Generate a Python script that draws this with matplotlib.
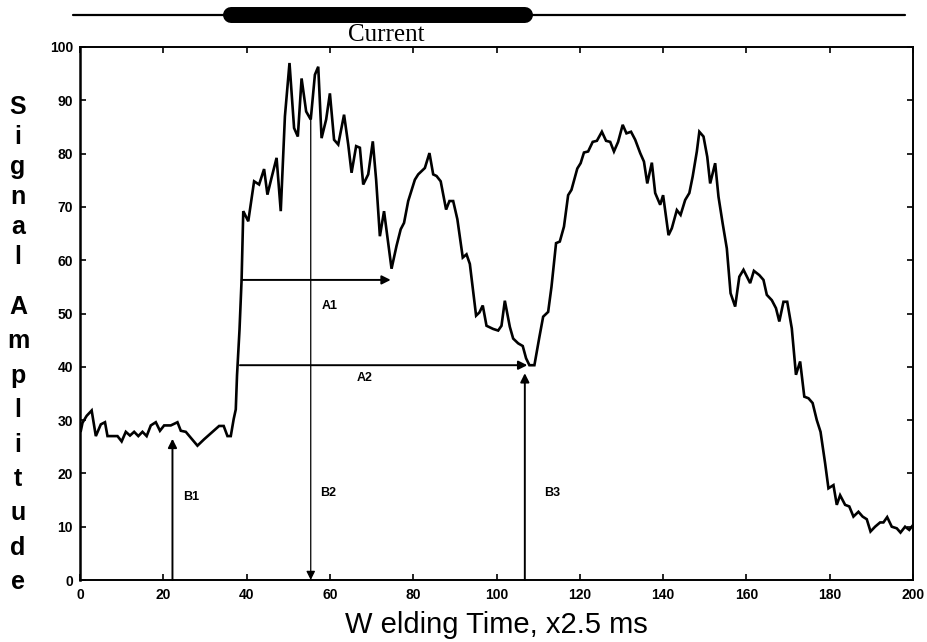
import matplotlib.pyplot as plt
import numpy as np

# welding time (x2.5 ms) and signal amplitude, traced point by point
t = [0.2, 0.6, 1.6, 2.8, 3.8, 5, 6, 6.6, 9, 10, 11, 12, 13, 14, 15, 16, 17, 18.2, 19.2, 20.2,
     21.8, 23.4, 24.2, 25.4, 28.2, 29.8, 31.8, 33.4, 34.5, 35.4, 36.2, 36.9, 37.4, 37.7, 38.3,
     38.8, 39.2, 40.4, 41.8, 43, 44.2, 45, 46, 47.2, 48.2, 49.2, 50.3, 51.4, 52.3, 53.2, 54.3,
     55.4, 56.4, 57.2, 58, 59.1, 60, 61, 62, 63.4, 64.4, 65.2, 66.3, 67.2, 68, 69.2, 70.3, 71.1,
     72, 73, 74.8, 76, 77, 77.8, 78.8, 80.4, 81.2, 82.8, 83.9, 84.8, 85.6, 86.6, 87.9, 88.7,
     89.6, 90.6, 91.9, 92.8, 93.6, 95.1, 95.9, 96.7, 97.6, 99.2, 100.4, 101.2, 102, 103.2, 104,
     105.2, 106.3, 107.1, 107.9, 109.1, 110.3, 111.2, 112.4, 113.2, 114.3, 115.2, 116.2, 117.2,
     118, 119.4, 120.2, 121, 122, 123.1, 124.1, 125.3, 126.3, 127.3, 128.2, 129.2, 130.3, 131.2,
     132.3, 133.3, 134.5, 135.4, 136.2, 137.3, 138.1, 139.3, 140, 141.3, 142.1, 143.3, 144.2,
     145.3, 146.3, 147.1, 148.1, 148.7, 149.7, 150.6, 151.3, 152.5, 153.3, 154.3, 155.3, 156.2,
     157.3, 158.3, 159.3, 160.9, 161.8, 163.1, 164.1, 164.9, 166.1, 167.1, 167.9, 168.9, 169.8,
     170.9, 171.9, 172.9, 173.9, 174.9, 175.9, 176.9, 177.8, 178.9, 179.7, 180.9, 181.7, 182.5,
     183.7, 184.7, 185.7, 186.9, 187.9, 188.9, 189.8, 190.9, 192.1, 192.9, 193.8, 194.9, 196.1,
     197, 198.1, 199.1, 200]
amp = [28, 29.5, 30.8, 31.8, 27, 29.2, 29.6, 27, 27, 26, 27.8, 27.1, 27.8, 27, 27.8, 27, 29, 29.6, 28, 29,
       29, 29.6, 28, 27.8, 25.2, 26.4, 27.8, 28.9, 28.9, 27, 27, 30.2, 32, 38.4, 47,
       56.4, 69.2, 67.3, 74.8, 74.2, 77.1, 72.3, 75.5, 79.2, 69.2, 87, 97, 84.8, 83.2, 94.1, 87.9,
       86.4, 94.8, 96.3, 82.9, 86.4, 91.3, 82.6, 81.7, 87.3, 81.7, 76.4, 81.4, 81.1, 74.2, 76.1, 82.3, 75.1,
       64.5, 69.2, 58.4, 62.7, 65.8, 67, 71.1, 75.1, 76.1, 77.3, 80.1, 76.1, 75.8, 74.8, 69.5, 71.1,
       71.1, 67.7, 60.5, 61.1, 59.3, 49.6, 50.2, 51.5, 47.7, 47.1, 46.8, 47.7, 52.4, 47.5, 45.3,
       44.4, 43.9, 41.6, 40.3, 40.3, 45.6, 49.4, 50.3, 55, 63.2, 63.5, 66.3, 72.2,
       73.2, 77.2, 78.2, 80.2, 80.4, 82.2, 82.4, 84.1, 82.4, 82.2, 80.4, 82.2, 85.4, 83.8,
       84.1, 82.6, 80.1, 78.5, 74.4, 78.3, 72.6, 70.4, 72.2, 64.7, 66, 69.4, 68.5,
       71.3, 72.6, 75.7, 80.4, 84.1, 83.2, 79.4, 74.4, 78.2, 71.9, 66.9, 62.2, 53.8,
       51.3, 56.9, 58.2, 55.7, 58, 57.2, 56.3, 53.5, 52.5, 51, 48.5, 52.2, 52.2,
       47.2, 38.5, 41, 34.4, 34.1, 33.2, 30, 27.8, 21.9, 17.2, 17.8, 14.1, 15.9,
       14.1, 13.8, 11.9, 12.8, 11.9, 11.4, 9.1, 10, 10.8, 10.8, 11.8, 10, 9.7,
       8.9, 10, 9.4, 10.3]

# current on/off bar above the plot
bar_span = (-1.7, 198)
current_on = (36.2, 106.9)
bar_y = 106

# horizontal intervals A1, A2: (start, end, level)
a_arrows = {'A1': (38.8, 74.6, 56.3), 'A2': (38.4, 107.4, 40.3)}
a_text = {'A1': (60, 51.4), 'A2': (68.4, 37.9)}
# vertical markers B1..B3: (time, from, to)
b_arrows = {'B1': (22.2, 0, 26.5), 'B2': (55.4, 87, 0), 'B3': (106.8, 0, 38.8)}
b_text = {'B1': (26.6, 15.6), 'B2': (59.5, 16.3), 'B3': (113.3, 16.3)}

plt.rcParams['font.family'] = 'Liberation Sans'

fig = plt.figure(figsize=(9.28, 6.42), dpi=100)
ax = fig.add_axes([80 / 928, 1 - 580 / 642, 833 / 928, 533 / 642])

ax.plot(t, amp, color='black', lw=1.9, solid_joinstyle='miter')

ax.set_xlim(0, 200)
ax.set_ylim(0, 100)
ax.set_xticks(np.arange(0, 201, 20))
ax.set_yticks(np.arange(0, 101, 10))
ax.tick_params(direction='in', top=True, right=True, length=4, width=1.2,
               labelsize=10, pad=5)
ax.tick_params(axis='x', pad=6)
for lab in ax.get_xticklabels() + ax.get_yticklabels():
    lab.set_fontweight('bold')
for s in ax.spines.values():
    s.set_linewidth(1.4)
ax.spines['left'].set_linewidth(1.8)

arrow_kw = dict(arrowstyle='-|>', color='black', mutation_scale=13,
                shrinkA=0, shrinkB=0)
for name, (x0, x1, y) in a_arrows.items():
    ax.annotate('', xy=(x1, y), xytext=(x0, y), arrowprops=dict(lw=1.4, **arrow_kw))
    ax.text(a_text[name][0], a_text[name][1], name, fontsize=9, fontweight='bold',
            ha='center', va='center')
for name, (x, y0, y1) in b_arrows.items():
    w = 0.9 if name == 'B2' else 1.4
    ax.annotate('', xy=(x, y1), xytext=(x, y0), arrowprops=dict(lw=w, **arrow_kw))
    ax.text(b_text[name][0], b_text[name][1], name, fontsize=9, fontweight='bold',
            ha='center', va='center')

# current bar
ax.plot(bar_span, [bar_y, bar_y], color='black', lw=1.6, clip_on=False,
        solid_capstyle='round')
ax.plot(current_on, [bar_y, bar_y], color='black', lw=11.5, clip_on=False,
        solid_capstyle='round')
ax.text(73.5, 101.1, 'Current', family='Liberation Serif', fontsize=18,
        ha='center', va='baseline')

ax.set_xlabel('W elding Time, x2.5 ms', fontsize=21, labelpad=6)

# stacked y-axis label
word1 = 'Signal'
word2 = 'Amplitude'
base1 = np.linspace(114, 264, len(word1))
base2 = np.linspace(314, 589, len(word2))
for ch, yb in list(zip(word1, base1)) + list(zip(word2, base2)):
    fig.text(18 / 928, 1 - yb / 642, ch, fontsize=18, fontweight='bold',
             ha='center', va='baseline')

fig.savefig('out.png', dpi=100)
